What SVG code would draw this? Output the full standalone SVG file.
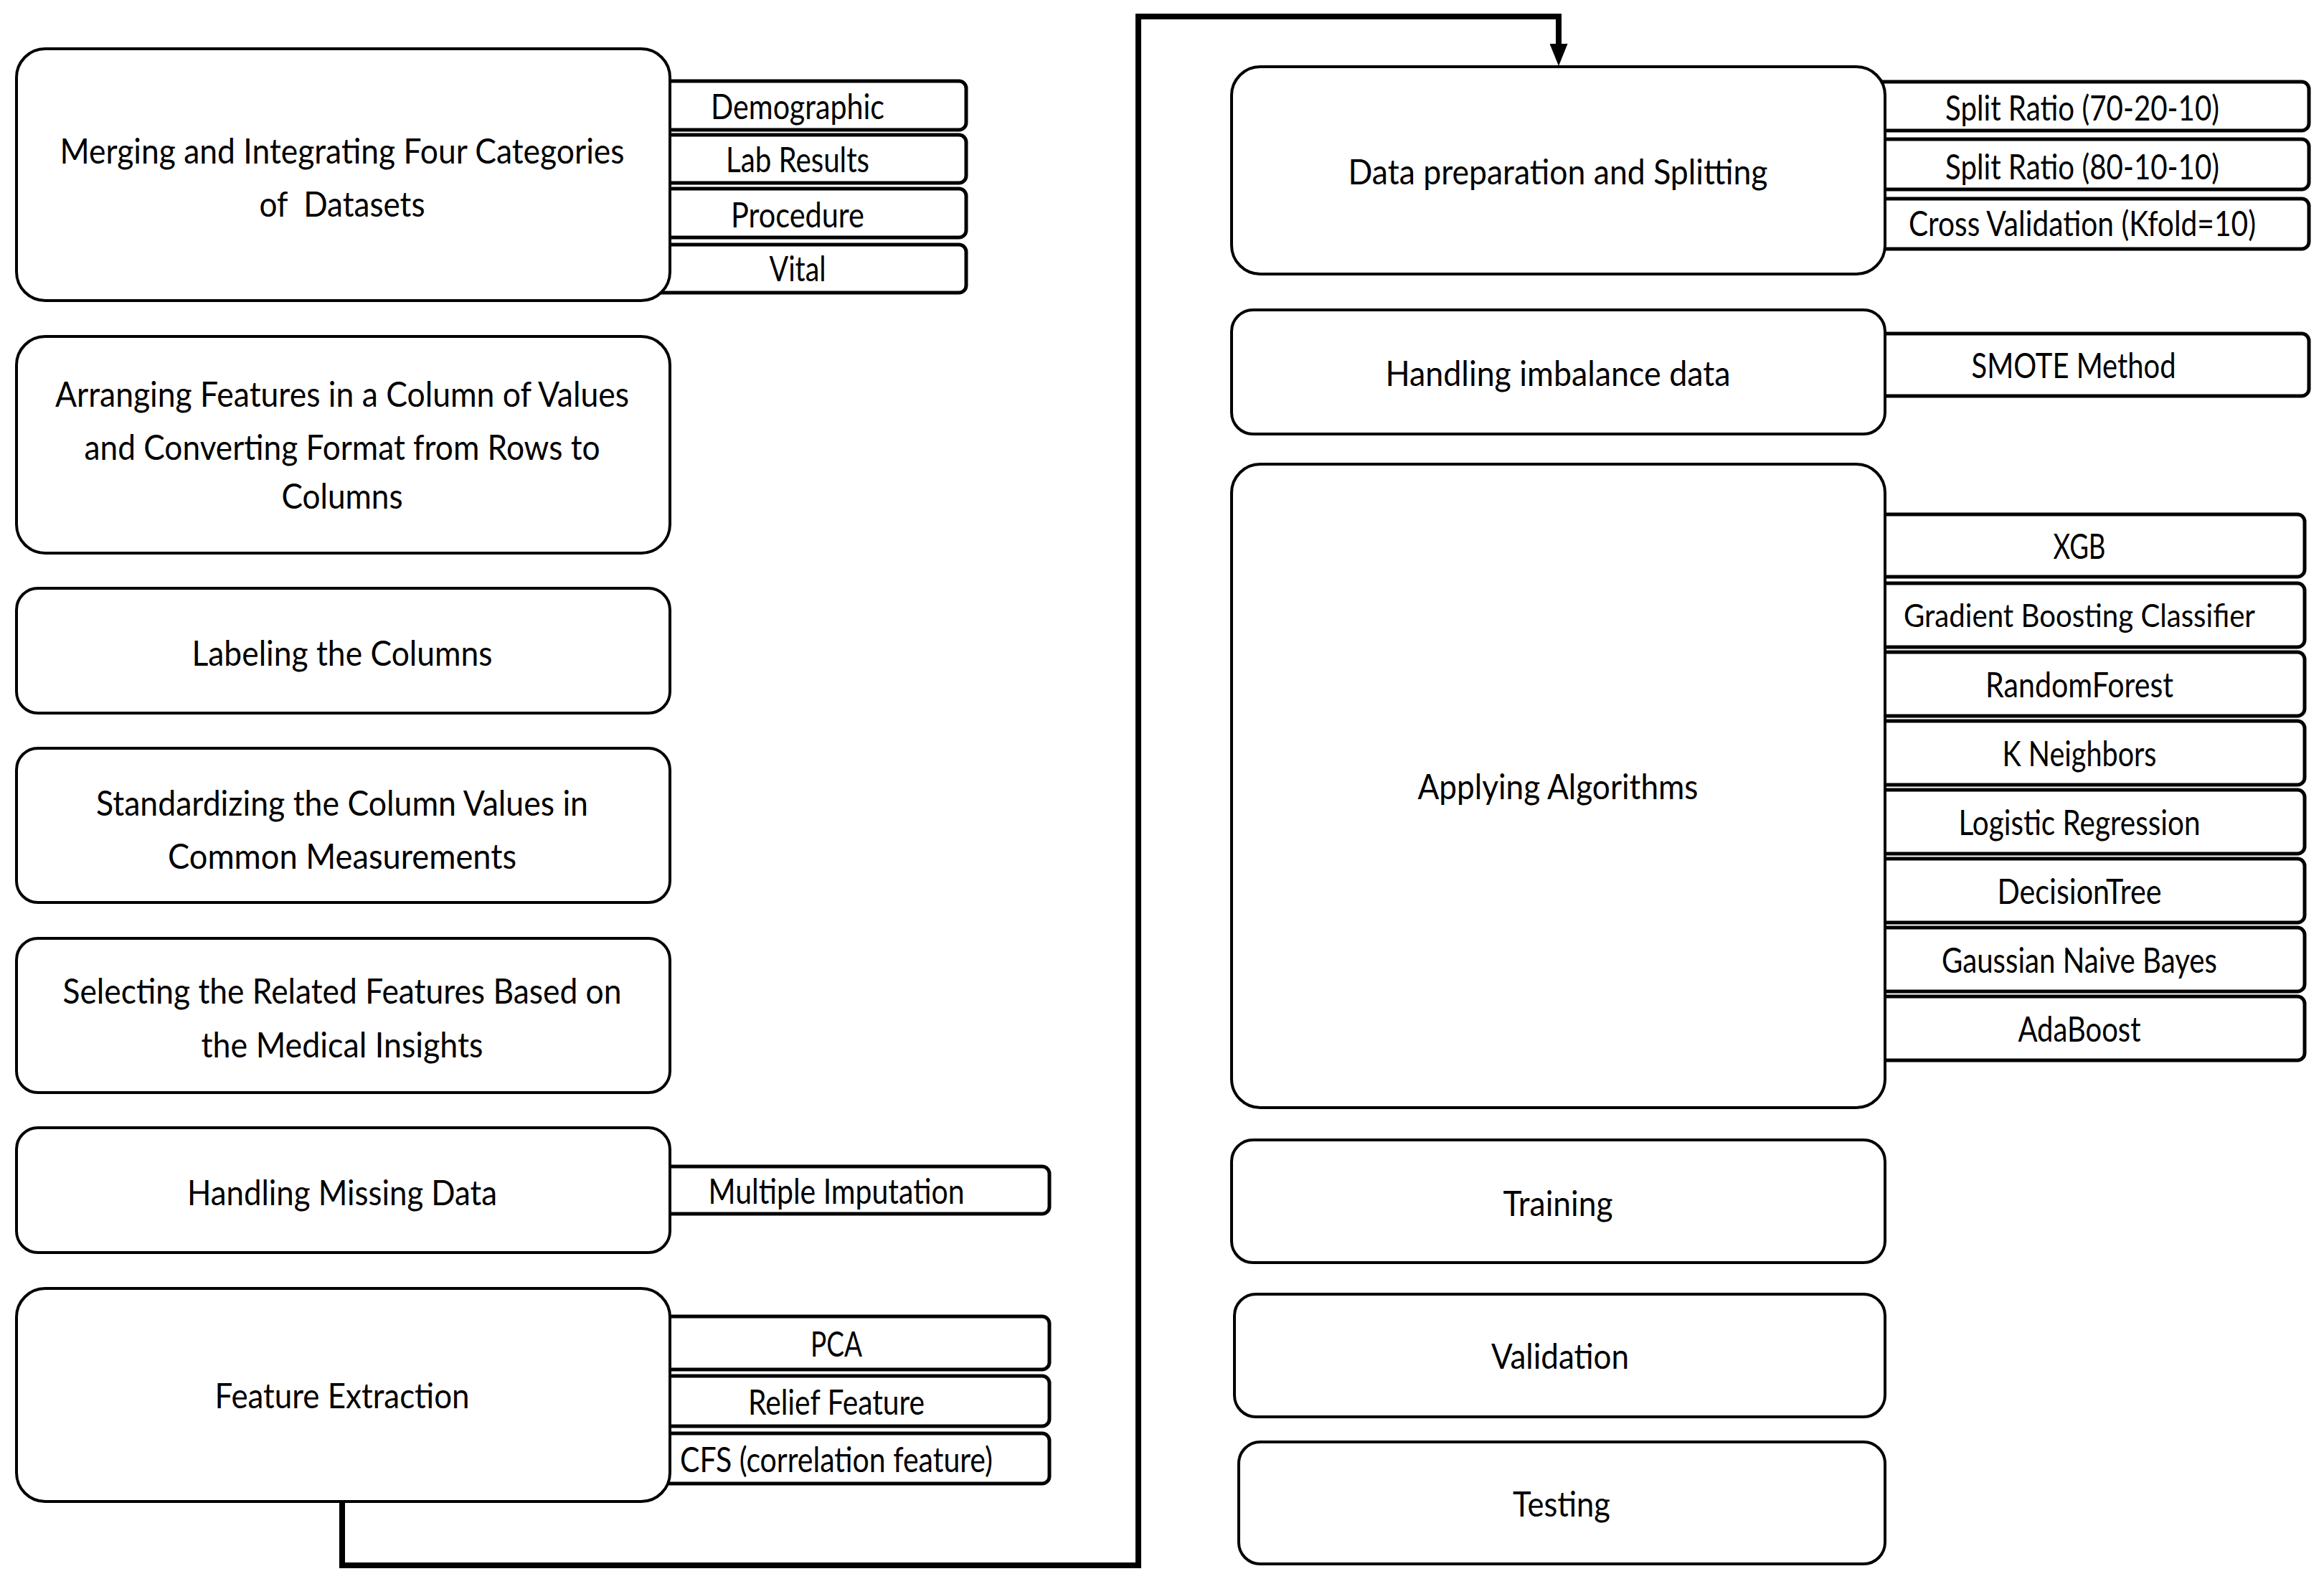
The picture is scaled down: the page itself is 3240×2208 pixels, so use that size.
<svg xmlns="http://www.w3.org/2000/svg" width="3240" height="2208" viewBox="0 0 3240 2208">
<style>
.box{fill:#fff;stroke:#000;stroke-width:4}
.sub{fill:#fff;stroke:#000;stroke-width:5}
.t{font-family:Lato,"Liberation Sans",sans-serif;font-size:49px;text-anchor:middle;dominant-baseline:central;fill:#000}
.conn{fill:none;stroke:#000;stroke-width:8;stroke-linejoin:miter}
</style>
<defs>
<marker id="arr" markerUnits="userSpaceOnUse" markerWidth="31" markerHeight="25" refX="1" refY="12.5" orient="auto" viewBox="0 0 31 25">
<path d="M0,0 L31,12.5 L0,25 Z" fill="#000"/>
</marker>
</defs>
<rect width="3240" height="2208" fill="#fff"/>

<g id="connectors">
<path class="conn" d="M477,2093 V2182 H1587 V23 H2173 V62" marker-end="url(#arr)"/>
</g>

<g id="merging">
<rect class="sub" x="890" y="113" width="457" height="68" rx="10"/>
<rect class="sub" x="890" y="188" width="457" height="67" rx="10"/>
<rect class="sub" x="890" y="263" width="457" height="68" rx="10"/>
<rect class="sub" x="890" y="341" width="457" height="67" rx="10"/>
<rect class="box" x="23" y="68" width="911" height="351" rx="40"/>
<text class="t" x="477" y="209" textLength="787" lengthAdjust="spacingAndGlyphs">Merging and Integrating Four Categories</text>
<text class="t" x="477" y="283" textLength="231" lengthAdjust="spacingAndGlyphs" style="white-space:pre">of  Datasets</text>
<text class="t" x="1112" y="147" textLength="242" lengthAdjust="spacingAndGlyphs">Demographic</text>
<text class="t" x="1112" y="221" textLength="200" lengthAdjust="spacingAndGlyphs">Lab Results</text>
<text class="t" x="1112" y="298" textLength="186" lengthAdjust="spacingAndGlyphs">Procedure</text>
<text class="t" x="1112" y="373" textLength="79" lengthAdjust="spacingAndGlyphs">Vital</text>
</g>

<g id="arranging">
<rect class="box" x="23" y="469" width="911" height="302" rx="40"/>
<text class="t" x="477" y="548" textLength="800" lengthAdjust="spacingAndGlyphs">Arranging Features in a Column of Values</text>
<text class="t" x="477" y="622" textLength="719" lengthAdjust="spacingAndGlyphs">and Converting Format from Rows to</text>
<text class="t" x="477" y="690" textLength="169" lengthAdjust="spacingAndGlyphs">Columns</text>
</g>

<g id="labeling">
<rect class="box" x="23" y="820" width="911" height="174" rx="30"/>
<text class="t" x="477" y="909" textLength="419" lengthAdjust="spacingAndGlyphs">Labeling the Columns</text>
</g>

<g id="standardizing">
<rect class="box" x="23" y="1043" width="911" height="215" rx="30"/>
<text class="t" x="477" y="1118" textLength="686" lengthAdjust="spacingAndGlyphs">Standardizing the Column Values in</text>
<text class="t" x="477" y="1192" textLength="486" lengthAdjust="spacingAndGlyphs">Common Measurements</text>
</g>

<g id="selecting">
<rect class="box" x="23" y="1308" width="911" height="215" rx="30"/>
<text class="t" x="477" y="1380" textLength="779" lengthAdjust="spacingAndGlyphs">Selecting the Related Features Based on</text>
<text class="t" x="477" y="1455" textLength="393" lengthAdjust="spacingAndGlyphs">the Medical Insights</text>
</g>

<g id="missing">
<rect class="sub" x="890" y="1626" width="573" height="66" rx="10"/>
<rect class="box" x="23" y="1572" width="911" height="174" rx="30"/>
<text class="t" x="477" y="1661" textLength="432" lengthAdjust="spacingAndGlyphs">Handling Missing Data</text>
<text class="t" x="1166" y="1659" textLength="357" lengthAdjust="spacingAndGlyphs">Multiple Imputation</text>
</g>

<g id="feature-extraction">
<rect class="sub" x="890" y="1835" width="573" height="74" rx="10"/>
<rect class="sub" x="890" y="1918" width="573" height="70" rx="10"/>
<rect class="sub" x="890" y="1998" width="573" height="70" rx="10"/>
<rect class="box" x="23" y="1796" width="911" height="297" rx="40"/>
<text class="t" x="477" y="1944" textLength="355" lengthAdjust="spacingAndGlyphs">Feature Extraction</text>
<text class="t" x="1166" y="1872" textLength="72" lengthAdjust="spacingAndGlyphs">PCA</text>
<text class="t" x="1166" y="1953" textLength="246" lengthAdjust="spacingAndGlyphs">Relief Feature</text>
<text class="t" x="1166" y="2033" textLength="436" lengthAdjust="spacingAndGlyphs">CFS (correlation feature)</text>
</g>

<g id="data-prep">
<rect class="sub" x="2590" y="114" width="629" height="68" rx="10"/>
<rect class="sub" x="2590" y="194" width="629" height="70" rx="10"/>
<rect class="sub" x="2590" y="277" width="629" height="70" rx="10"/>
<rect class="box" x="1717" y="93" width="911" height="289" rx="40"/>
<text class="t" x="2172" y="238" textLength="585" lengthAdjust="spacingAndGlyphs">Data preparation and Splitting</text>
<text class="t" x="2903" y="149" textLength="382" lengthAdjust="spacingAndGlyphs">Split Ratio (70-20-10)</text>
<text class="t" x="2903" y="231" textLength="382" lengthAdjust="spacingAndGlyphs">Split Ratio (80-10-10)</text>
<text class="t" x="2903" y="310" textLength="484" lengthAdjust="spacingAndGlyphs">Cross Validation (Kfold=10)</text>
</g>

<g id="imbalance">
<rect class="sub" x="2590" y="465" width="629" height="87" rx="10"/>
<rect class="box" x="1717" y="432" width="911" height="173" rx="30"/>
<text class="t" x="2172" y="519" textLength="481" lengthAdjust="spacingAndGlyphs">Handling imbalance data</text>
<text class="t" x="2891" y="508" textLength="285" lengthAdjust="spacingAndGlyphs">SMOTE Method</text>
</g>

<g id="algorithms">
<rect class="sub" x="2590" y="717" width="623" height="87" rx="10"/>
<rect class="sub" x="2590" y="813" width="623" height="89" rx="10"/>
<rect class="sub" x="2590" y="909" width="623" height="89" rx="10"/>
<rect class="sub" x="2590" y="1005" width="623" height="89" rx="10"/>
<rect class="sub" x="2590" y="1101" width="623" height="89" rx="10"/>
<rect class="sub" x="2590" y="1197" width="623" height="89" rx="10"/>
<rect class="sub" x="2590" y="1293" width="623" height="89" rx="10"/>
<rect class="sub" x="2590" y="1389" width="623" height="89" rx="10"/>
<rect class="box" x="1717" y="647" width="911" height="897" rx="40"/>
<text class="t" x="2172" y="1095" textLength="391" lengthAdjust="spacingAndGlyphs">Applying Algorithms</text>
<text class="t" x="2899" y="760" textLength="73" lengthAdjust="spacingAndGlyphs">XGB</text>
<text class="t" x="2899" y="857" textLength="490" lengthAdjust="spacingAndGlyphs" style="font-size:44px">Gradient Boosting Classifier</text>
<text class="t" x="2899" y="953" textLength="262" lengthAdjust="spacingAndGlyphs">RandomForest</text>
<text class="t" x="2899" y="1049" textLength="215" lengthAdjust="spacingAndGlyphs">K Neighbors</text>
<text class="t" x="2899" y="1145" textLength="337" lengthAdjust="spacingAndGlyphs">Logistic Regression</text>
<text class="t" x="2899" y="1241" textLength="229" lengthAdjust="spacingAndGlyphs">DecisionTree</text>
<text class="t" x="2899" y="1337" textLength="384" lengthAdjust="spacingAndGlyphs">Gaussian Naive Bayes</text>
<text class="t" x="2899" y="1433" textLength="171" lengthAdjust="spacingAndGlyphs">AdaBoost</text>
</g>

<g id="training">
<rect class="box" x="1717" y="1589" width="911" height="171" rx="30"/>
<text class="t" x="2172" y="1676" textLength="153" lengthAdjust="spacingAndGlyphs">Training</text>
</g>

<g id="validation">
<rect class="box" x="1721" y="1804" width="907" height="171" rx="30"/>
<text class="t" x="2175" y="1889" textLength="192" lengthAdjust="spacingAndGlyphs">Validation</text>
</g>

<g id="testing">
<rect class="box" x="1727" y="2010" width="901" height="170" rx="30"/>
<text class="t" x="2177" y="2095" textLength="136" lengthAdjust="spacingAndGlyphs">Testing</text>
</g>
</svg>
